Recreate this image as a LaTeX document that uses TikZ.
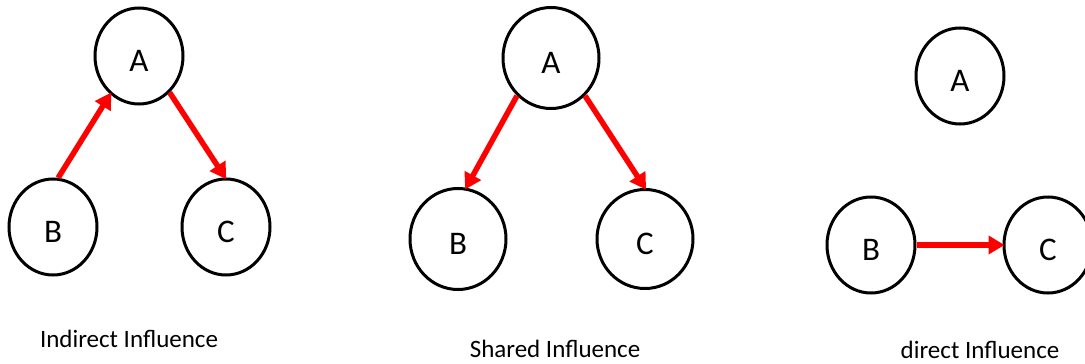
\documentclass[tikz,border=0pt]{standalone}
\usepackage{fontspec}
\setmainfont{Carlito}
\usetikzlibrary{shapes.geometric,arrows.meta}
\tikzset{
  vnode/.style={draw=black, line width=3pt, ellipse, inner sep=0pt,
    minimum width=88pt, minimum height=96pt, font=\fontsize{33}{33}\selectfont,
    text height=31pt, text depth=0pt},
  infl/.style={draw=red, line width=5.5pt, -{Triangle[length=16pt,width=18pt]}, shorten >=-2pt},
  caption/.style={anchor=base, font=\fontsize{25}{25}\selectfont}
}
\begin{document}
\begin{tikzpicture}[x=1pt,y=-1pt]
\useasboundingbox (0,0) rectangle (1085,364);
% panel 1
\node[vnode] (A1) at (139,56) {A};
\node[vnode] (B1) at (53,227) {B};
\node[vnode] (C1) at (226,227) {C};
\draw[infl] (B1.84) -- (A1.233);
\draw[infl] (A1.310) -- (C1.91);
\node[caption] (L1) at (129,347) {Indirect Influence};
% panel 2
\node[vnode, minimum width=96pt, minimum height=101pt] (A2) at (551,58) {A};
\node[vnode, minimum width=96pt, minimum height=101pt] (B2) at (458,239) {B};
\node[vnode, minimum width=96pt, minimum height=99pt] (C2) at (645,239) {C};
\draw[infl] (A2.228) -- (B2.81);
\draw[infl] (A2.312) -- (C2.90);
\node[caption] (L2) at (555,357) {Shared Influence};
% panel 3
\node[vnode] (A3) at (960,76) {A};
\node[vnode] (B3) at (871,245) {B};
\node[vnode] (C3) at (1048,245) {C};
\draw[infl] (B3.east) -- (C3.west);
\node[caption] (L3) at (980,358) {direct Influence};
\end{tikzpicture}
\end{document}
